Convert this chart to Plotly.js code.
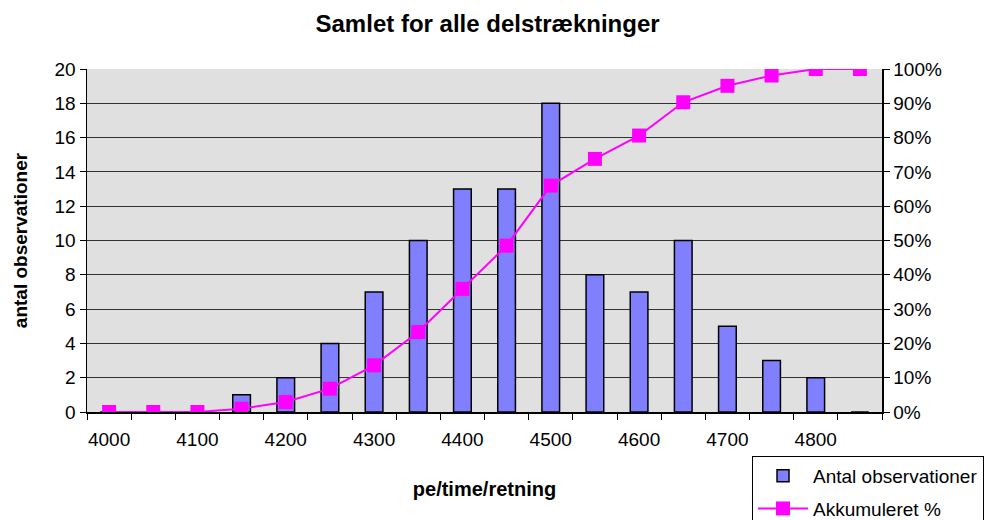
<!DOCTYPE html>
<html>
<head>
<meta charset="utf-8">
<script src="https://cdn.plot.ly/plotly-3.0.1.min.js"></script>
<style>html,body{margin:0;padding:0;background:#fff;}#chart{width:985px;height:520px;}</style>
</head>
<body>
<div id="chart"></div>
<script>
const categories = ['4000','4050','4100','4150','4200','4250','4300','4350','4400','4450','4500','4550','4600','4650','4700','4750','4800','4850'];
const tickLabels = ['4000','','4100','','4200','','4300','','4400','','4500','','4600','','4700','','4800',''];
const antalObservationer = [0,0,0,1,2,4,7,10,13,13,18,8,7,10,5,3,2,0];
const akkumuleretPct = [0,0,0,0.0097,0.029,0.068,0.136,0.233,0.359,0.485,0.660,0.738,0.806,0.903,0.951,0.981,1.0,1.0];
const yLeftTicks = [0,2,4,6,8,10,12,14,16,18,20];
const yRightTicks = [0,0.1,0.2,0.3,0.4,0.5,0.6,0.7,0.8,0.9,1.0];

const FONT = 'Liberation Sans, Arial, sans-serif';

const traces = [
  {
    type: 'bar', name: 'Antal observationer', legendgroup: 'a',
    x: categories, y: antalObservationer,
    marker: {color: '#8080ff', line: {color: '#000000', width: 1.5}},
    yaxis: 'y'
  },
  {
    type: 'scatter', mode: 'lines+markers', name: 'Akkumuleret %', legendgroup: 'b',
    x: categories, y: akkumuleretPct,
    line: {color: '#ff00ff', width: 2},
    marker: {symbol: 'square', size: 14, color: '#ff00ff'},
    yaxis: 'y2'
  }
];

const layout = {
  width: 985, height: 520,
  paper_bgcolor: '#ffffff',
  plot_bgcolor: '#e0e0e0',
  font: {family: FONT, size: 19, color: '#000'},
  margin: {l: 87, r: 103, t: 69, b: 108, autoexpand: false},
  bargap: 0.6,
  showlegend: true,
  title: {text: '<b>Samlet for alle delstrækninger</b>', font: {family: FONT, size: 24, color: '#000'}, x: 0.495, xanchor: 'center', y: 0.955, yanchor: 'middle'},
  xaxis: {
    type: 'category',
    tickmode: 'array', tickvals: categories, ticktext: tickLabels,
    tickangle: 0, ticklabelstandoff: 10,
    tickson: 'boundaries', ticks: 'outside', ticklen: 6, tickcolor: '#000', tickwidth: 1,
    showline: true, linecolor: '#000', linewidth: 1.5,
    showgrid: false, zeroline: false,
    range: [-0.5, 17.5],
    tickfont: {family: FONT, size: 19},
    title: {text: '<b>pe/time/retning</b>', font: {family: FONT, size: 20}, standoff: 32}
  },
  yaxis: {
    range: [0, 20], tickmode: 'array', tickvals: yLeftTicks,
    ticks: 'outside', ticklen: 6, tickcolor: '#000',
    showline: true, linecolor: '#000', linewidth: 1.5,
    showgrid: true, gridcolor: '#333333', gridwidth: 1,
    zeroline: false,
    tickfont: {family: FONT, size: 19},
    title: {text: '<b>antal observationer</b>', font: {family: FONT, size: 19}, standoff: 22}
  },
  yaxis2: {
    overlaying: 'y', side: 'right',
    range: [0, 1], tickmode: 'array', tickvals: yRightTicks, tickformat: '.0%',
    ticks: 'outside', ticklen: 6, tickcolor: '#000',
    showline: true, linecolor: '#000', linewidth: 1.5,
    showgrid: false, zeroline: false,
    tickfont: {family: FONT, size: 19}
  },
  legend: {
    x: 0.8365, xanchor: 'left', y: -0.128, yanchor: 'top',
    bgcolor: '#ffffff', bordercolor: '#000', borderwidth: 1,
    font: {family: FONT, size: 19}, traceorder: 'grouped', tracegroupgap: 5,
    itemwidth: 50
  }
};

Plotly.newPlot('chart', traces, layout, {displayModeBar: false, staticPlot: true});
</script>
</body>
</html>
